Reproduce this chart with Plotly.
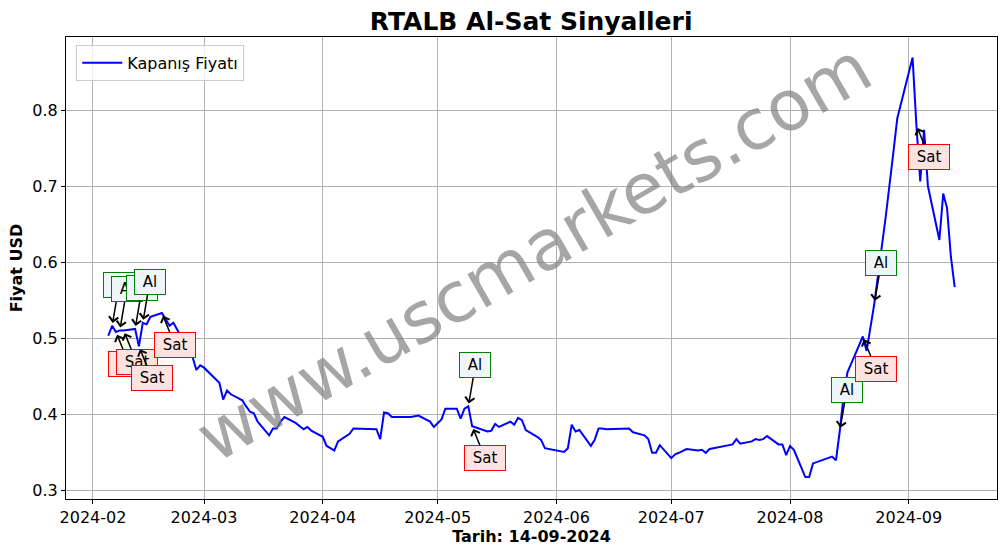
import plotly.graph_objects as go

# ---- data ----
dates = [
    "2024-02-05", "2024-02-06", "2024-02-07", "2024-02-08", "2024-02-09",
    "2024-02-12", "2024-02-13", "2024-02-14", "2024-02-15", "2024-02-16",
    "2024-02-19", "2024-02-20", "2024-02-21", "2024-02-22", "2024-02-23",
    "2024-02-26", "2024-02-27", "2024-02-28", "2024-02-29", "2024-03-01",
    "2024-03-04", "2024-03-05", "2024-03-06", "2024-03-07", "2024-03-08",
    "2024-03-11", "2024-03-12", "2024-03-13", "2024-03-14", "2024-03-15",
    "2024-03-18", "2024-03-19", "2024-03-20", "2024-03-21", "2024-03-22",
    "2024-03-25", "2024-03-26", "2024-03-27", "2024-03-28", "2024-03-29",
    "2024-04-01", "2024-04-02", "2024-04-03", "2024-04-04", "2024-04-05",
    "2024-04-08", "2024-04-09", "2024-04-15", "2024-04-16", "2024-04-17",
    "2024-04-18", "2024-04-19", "2024-04-22", "2024-04-24", "2024-04-25",
    "2024-04-26", "2024-04-29", "2024-04-30", "2024-05-02", "2024-05-03",
    "2024-05-06", "2024-05-07", "2024-05-08", "2024-05-09", "2024-05-10",
    "2024-05-13", "2024-05-14", "2024-05-15", "2024-05-16", "2024-05-17",
    "2024-05-20", "2024-05-21", "2024-05-22", "2024-05-23", "2024-05-24",
    "2024-05-27", "2024-05-28", "2024-05-29", "2024-05-30", "2024-05-31",
    "2024-06-03", "2024-06-04", "2024-06-05", "2024-06-06", "2024-06-07",
    "2024-06-10", "2024-06-11", "2024-06-12", "2024-06-13", "2024-06-14",
    "2024-06-20", "2024-06-21", "2024-06-24", "2024-06-25", "2024-06-26",
    "2024-06-27", "2024-06-28", "2024-07-01", "2024-07-02", "2024-07-03",
    "2024-07-04", "2024-07-05", "2024-07-08", "2024-07-09", "2024-07-10",
    "2024-07-11", "2024-07-12", "2024-07-16", "2024-07-17", "2024-07-18",
    "2024-07-19", "2024-07-22", "2024-07-23", "2024-07-24", "2024-07-25",
    "2024-07-26", "2024-07-29", "2024-07-30", "2024-07-31", "2024-08-01",
    "2024-08-02", "2024-08-05", "2024-08-06", "2024-08-07", "2024-08-08",
    "2024-08-09", "2024-08-12", "2024-08-13", "2024-08-14", "2024-08-15",
    "2024-08-16", "2024-08-19", "2024-08-20", "2024-08-21", "2024-08-22",
    "2024-08-23", "2024-08-26", "2024-08-27", "2024-08-28", "2024-08-29",
    "2024-09-02", "2024-09-03", "2024-09-04", "2024-09-05", "2024-09-06",
    "2024-09-09", "2024-09-10", "2024-09-11", "2024-09-12", "2024-09-13",
]
prices = [
    0.503, 0.516, 0.508, 0.510, 0.510,
    0.512, 0.489, 0.520, 0.518, 0.528,
    0.533, 0.524, 0.516, 0.520, 0.511,
    0.487, 0.475, 0.458, 0.464, 0.461,
    0.447, 0.441, 0.419, 0.431, 0.426,
    0.418, 0.410, 0.403, 0.401, 0.390,
    0.372, 0.381, 0.381, 0.390, 0.396,
    0.388, 0.384, 0.380, 0.383, 0.378,
    0.370, 0.358, 0.355, 0.352, 0.364,
    0.374, 0.381, 0.380, 0.367, 0.402,
    0.401, 0.396, 0.396, 0.396, 0.397,
    0.398, 0.390, 0.383, 0.393, 0.407,
    0.407, 0.394, 0.407, 0.410, 0.384,
    0.379, 0.377, 0.378, 0.387, 0.383,
    0.390, 0.386, 0.395, 0.392, 0.379,
    0.370, 0.366, 0.355, 0.354, 0.353,
    0.350, 0.355, 0.386, 0.377, 0.379,
    0.358, 0.366, 0.381, 0.381, 0.380,
    0.381, 0.376, 0.372, 0.367, 0.349,
    0.349, 0.359, 0.342, 0.347, 0.349,
    0.352, 0.354, 0.352, 0.353, 0.349,
    0.354, 0.355, 0.359, 0.360, 0.367,
    0.361, 0.364, 0.367, 0.366, 0.367,
    0.371, 0.360, 0.360, 0.346, 0.358,
    0.353, 0.317, 0.317, 0.335, 0.337,
    0.339, 0.344, 0.339, 0.378, 0.425,
    0.455, 0.490, 0.502, 0.483, 0.515,
    0.545, 0.660, 0.700, 0.745, 0.789,
    0.869, 0.780, 0.706, 0.774, 0.700,
    0.629, 0.690, 0.671, 0.607, 0.567,
]
al_dates = ["2024-02-06", "2024-02-08", "2024-02-12", "2024-02-14",
            "2024-05-09", "2024-08-14", "2024-08-23"]
sat_dates = ["2024-02-07", "2024-02-09", "2024-02-13", "2024-02-19",
             "2024-05-10", "2024-08-20", "2024-09-03"]
y_ticks = [0.3, 0.4, 0.5, 0.6, 0.7, 0.8]
x_ticks = ["2024-02-01", "2024-03-01", "2024-04-01", "2024-05-01",
           "2024-06-01", "2024-07-01", "2024-08-01", "2024-09-01"]

price_of = dict(zip(dates, prices))
FONT = "DejaVu Sans"

fig = go.Figure()
fig.add_trace(go.Scatter(
    x=dates, y=prices, mode="lines", name="Kapanış Fiyatı",
    line=dict(color="blue", width=2),
))

annotations = []
for d in al_dates:
    annotations.append(dict(
        x=d, y=price_of[d], xref="x", yref="y", text=" Al ",
        showarrow=True, ax=7, ay=-41, standoff=3,
        arrowhead=4, arrowsize=1.2, arrowwidth=1.5, arrowcolor="black",
        bgcolor="#eef6fc", bordercolor="green", borderwidth=1, borderpad=3,
        font=dict(family=FONT, size=15, color="black"),
    ))
for d in sat_dates:
    annotations.append(dict(
        x=d, y=price_of[d], xref="x", yref="y", text=" Sat ",
        showarrow=True, ax=13, ay=32, standoff=3,
        arrowhead=4, arrowsize=1.2, arrowwidth=1.5, arrowcolor="black",
        bgcolor="#fde3e0", bordercolor="red", borderwidth=1, borderpad=3,
        font=dict(family=FONT, size=15, color="black"),
    ))
annotations.append(dict(
    x=0.503, y=0.535, xref="paper", yref="paper", text="www.uscmarkets.com",
    showarrow=False, textangle=-30,
    font=dict(family=FONT, size=70, color="rgba(128,128,128,0.7)"),
))

fig.update_layout(
    width=1006, height=554,
    margin=dict(l=66, r=9, t=37, b=55),
    paper_bgcolor="white", plot_bgcolor="white",
    font=dict(family=FONT, size=16, color="black"),
    title=dict(text="<b>RTALB Al-Sat Sinyalleri</b>", x=0.528, xanchor="center",
               y=0.962, yanchor="middle", font=dict(family=FONT, size=25)),
    showlegend=True,
    legend=dict(x=0.011, y=0.983, xanchor="left", yanchor="top",
                bgcolor="rgba(255,255,255,0.8)", bordercolor="#cccccc",
                borderwidth=1, font=dict(family=FONT, size=16),
                itemwidth=40, tracegroupgap=0),
    annotations=annotations,
)
fig.update_xaxes(
    range=["2024-01-24 23:00", "2024-09-24 01:00"],
    tickvals=x_ticks, tickformat="%Y-%m",
    showgrid=True, gridcolor="#b0b0b0", gridwidth=1,
    showline=True, linecolor="black", linewidth=1, mirror=True,
    ticks="outside", ticklen=4, tickcolor="black",
    tickfont=dict(family=FONT, size=16),
    title=dict(text="<b>Tarih: 14-09-2024</b>", font=dict(family=FONT, size=16), standoff=3),
    zeroline=False, automargin=False,
)
fig.update_yaxes(
    range=[0.2882, 0.8961],
    tickvals=y_ticks, tickformat=".1f",
    showgrid=True, gridcolor="#b0b0b0", gridwidth=1,
    showline=True, linecolor="black", linewidth=1, mirror=True,
    ticks="outside", ticklen=4, tickcolor="black",
    tickfont=dict(family=FONT, size=16),
    title=dict(text="<b>Fiyat USD</b>", font=dict(family=FONT, size=16), standoff=5),
    zeroline=False, automargin=False,
)

fig.write_html("out.html", config={"displayModeBar": False},
               post_script="document.body.style.margin='0px';")
